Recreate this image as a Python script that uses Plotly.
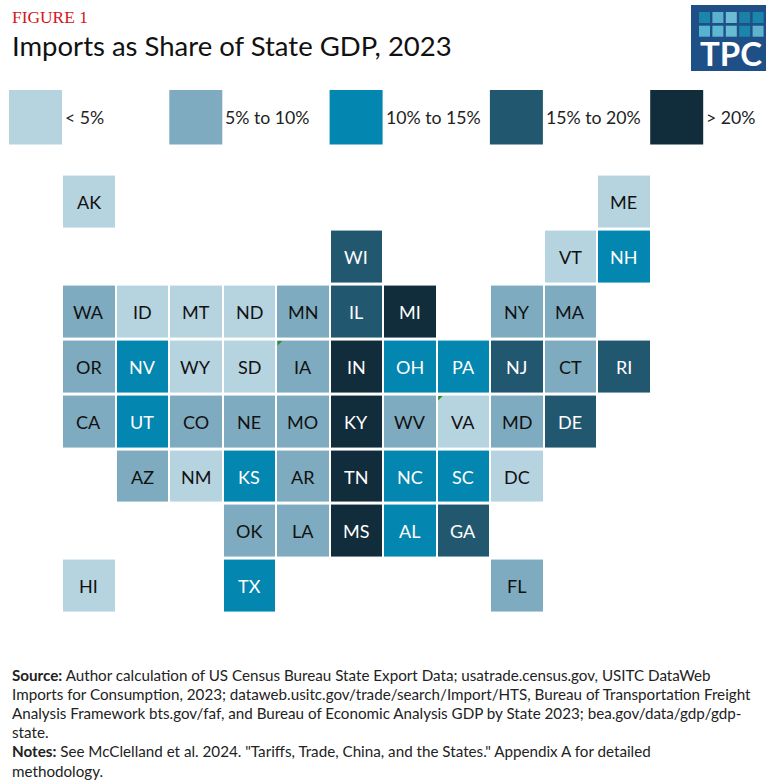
import plotly.graph_objects as go

W, H = 769, 784

# state tile grid: code, column, row, bin index
states = ["AK", "ME", "WI", "VT", "NH",
          "WA", "ID", "MT", "ND", "MN", "IL", "MI", "NY", "MA",
          "OR", "NV", "WY", "SD", "IA", "IN", "OH", "PA", "NJ", "CT", "RI",
          "CA", "UT", "CO", "NE", "MO", "KY", "WV", "VA", "MD", "DE",
          "AZ", "NM", "KS", "AR", "TN", "NC", "SC", "DC",
          "OK", "LA", "MS", "AL", "GA",
          "HI", "TX", "FL"]
cols = [0, 10, 5, 9, 10,
        0, 1, 2, 3, 4, 5, 6, 8, 9,
        0, 1, 2, 3, 4, 5, 6, 7, 8, 9, 10,
        0, 1, 2, 3, 4, 5, 6, 7, 8, 9,
        1, 2, 3, 4, 5, 6, 7, 8,
        3, 4, 5, 6, 7,
        0, 3, 8]
rows = [0, 0, 1, 1, 1,
        2, 2, 2, 2, 2, 2, 2, 2, 2,
        3, 3, 3, 3, 3, 3, 3, 3, 3, 3, 3,
        4, 4, 4, 4, 4, 4, 4, 4, 4, 4,
        5, 5, 5, 5, 5, 5, 5, 5,
        6, 6, 6, 6, 6,
        7, 7, 7]
bins = [0, 0, 3, 0, 2,
        1, 0, 0, 0, 1, 3, 4, 1, 1,
        1, 2, 0, 0, 1, 4, 2, 2, 3, 1, 3,
        1, 2, 1, 1, 1, 4, 1, 0, 1, 3,
        1, 0, 2, 1, 4, 2, 2, 0,
        1, 1, 4, 2, 3,
        0, 2, 1]

# tiles with the small green corner mark
corner_states = ["IA", "VA"]

bin_labels = ["< 5%", "5% to 10%", "10% to 15%", "15% to 20%", "> 20%"]
bin_colors = ["#b6d3e0", "#7eabbf", "#0386af", "#22586f", "#112c3b"]
label_colors = ["#111111", "#111111", "#ffffff", "#ffffff", "#ffffff"]

source_lines = [
    "<b>Source:</b> Author calculation of US Census Bureau State Export Data; usatrade.census.gov, USITC DataWeb",
    "Imports for Consumption, 2023; dataweb.usitc.gov/trade/search/Import/HTS, Bureau of Transportation Freight",
    "Analysis Framework bts.gov/faf, and Bureau of Economic Analysis GDP by State 2023; bea.gov/data/gdp/gdp-",
    "state.",
    "<b>Notes:</b> See McClelland et al. 2024. \"Tariffs, Trade, China, and the States.\" Appendix A for detailed",
    "methodology.",
]

logo_tiles = [["#1b86ac", "#5bb2cf", "#6cbdd3", "#1b7fa6", "#1b86ac"],
              ["#56b4d0", "#5fb8d2", "#66bcd3", "#1b86ac", "#5fb3cd"]]


def px(x):
    return x / W


def py(y):
    return 1 - y / H


# grid built from the state lists
z = [[None] * 11 for _ in range(8)]
for c, r, b in zip(cols, rows, bins):
    z[r][c] = b

n = len(bin_colors)
scale = []
for i, colr in enumerate(bin_colors):
    scale.append([i / n, colr])
    scale.append([(i + 1) / n, colr])

fig = go.Figure()
fig.add_trace(go.Heatmap(z=z, x=list(range(11)), y=list(range(8)), zmin=-0.5, zmax=4.5,
                         colorscale=scale, showscale=False, xgap=2, ygap=3, hoverinfo="skip"))

corner_idx = [states.index(s) for s in corner_states]
fig.add_trace(go.Scatter(x=[cols[i] - 0.44 for i in corner_idx], y=[rows[i] - 0.44 for i in corner_idx],
                         mode="markers", hoverinfo="skip",
                         marker=dict(symbol="triangle-nw", size=5, color="#2c8a2c", line=dict(width=0))))

shapes = []
annots = []


def note(x, y, text, size, color="#111111", family="Lato", anchor="left"):
    annots.append(dict(xref="paper", yref="paper", x=px(x), y=py(y), text=text, showarrow=False,
                       xanchor=anchor, yanchor="middle", xshift=-2,
                       font=dict(family=family, size=size, color=color)))


def box(x0, y0, x1, y1, color):
    shapes.append(dict(type="rect", xref="paper", yref="paper", x0=px(x0), x1=px(x1), y0=py(y0), y1=py(y1),
                       fillcolor=color, line=dict(width=0), layer="above"))


for st, c, r, b in zip(states, cols, rows, bins):
    annots.append(dict(xref="x", yref="y", x=c, y=r, text=st, showarrow=False,
                       font=dict(family="Lato", size=18, color=label_colors[b])))

note(12, 17, "FIGURE 1", 17.4, "#d4141c", "Liberation Serif")
note(12, 45.5, "Imports as Share of State GDP, 2023", 27.5, "#111111")

# legend swatches
for i, (lab, colr) in enumerate(zip(bin_labels, bin_colors)):
    x0 = 9 + 160.3 * i
    box(x0, 90, x0 + 53, 144.5, colr)
    note(x0 + 56, 117, lab, 17.7, "#222222")

# logo
box(691, 5, 766, 71, "#1e4f87")
for r, tile_row in enumerate(logo_tiles):
    for c, colr in enumerate(tile_row):
        box(699 + 13.4 * c, 12 + 13.7 * r, 710 + 13.4 * c, 23 + 13.7 * r, colr)
note(732.5, 53, "<b>TPC</b>", 33, "#ffffff", "Lato", "center")

# footer
for i, line in enumerate(source_lines):
    note(11.5, 674.5 + 19.2 * i, line, 15.2, "#222222")

fig.update_layout(
    width=W, height=H, margin=dict(l=0, r=0, t=0, b=0),
    paper_bgcolor="white", plot_bgcolor="white", showlegend=False,
    xaxis=dict(range=[-88.75 / 53.5, (W - 88.75) / 53.5], visible=False, fixedrange=True),
    yaxis=dict(range=[(H - 202) / 54.9, -202 / 54.9], visible=False, fixedrange=True),
    shapes=shapes, annotations=annots,
)
fig.write_html("out.html", config=dict(displayModeBar=False),
               post_script="document.body.style.margin='0';")
